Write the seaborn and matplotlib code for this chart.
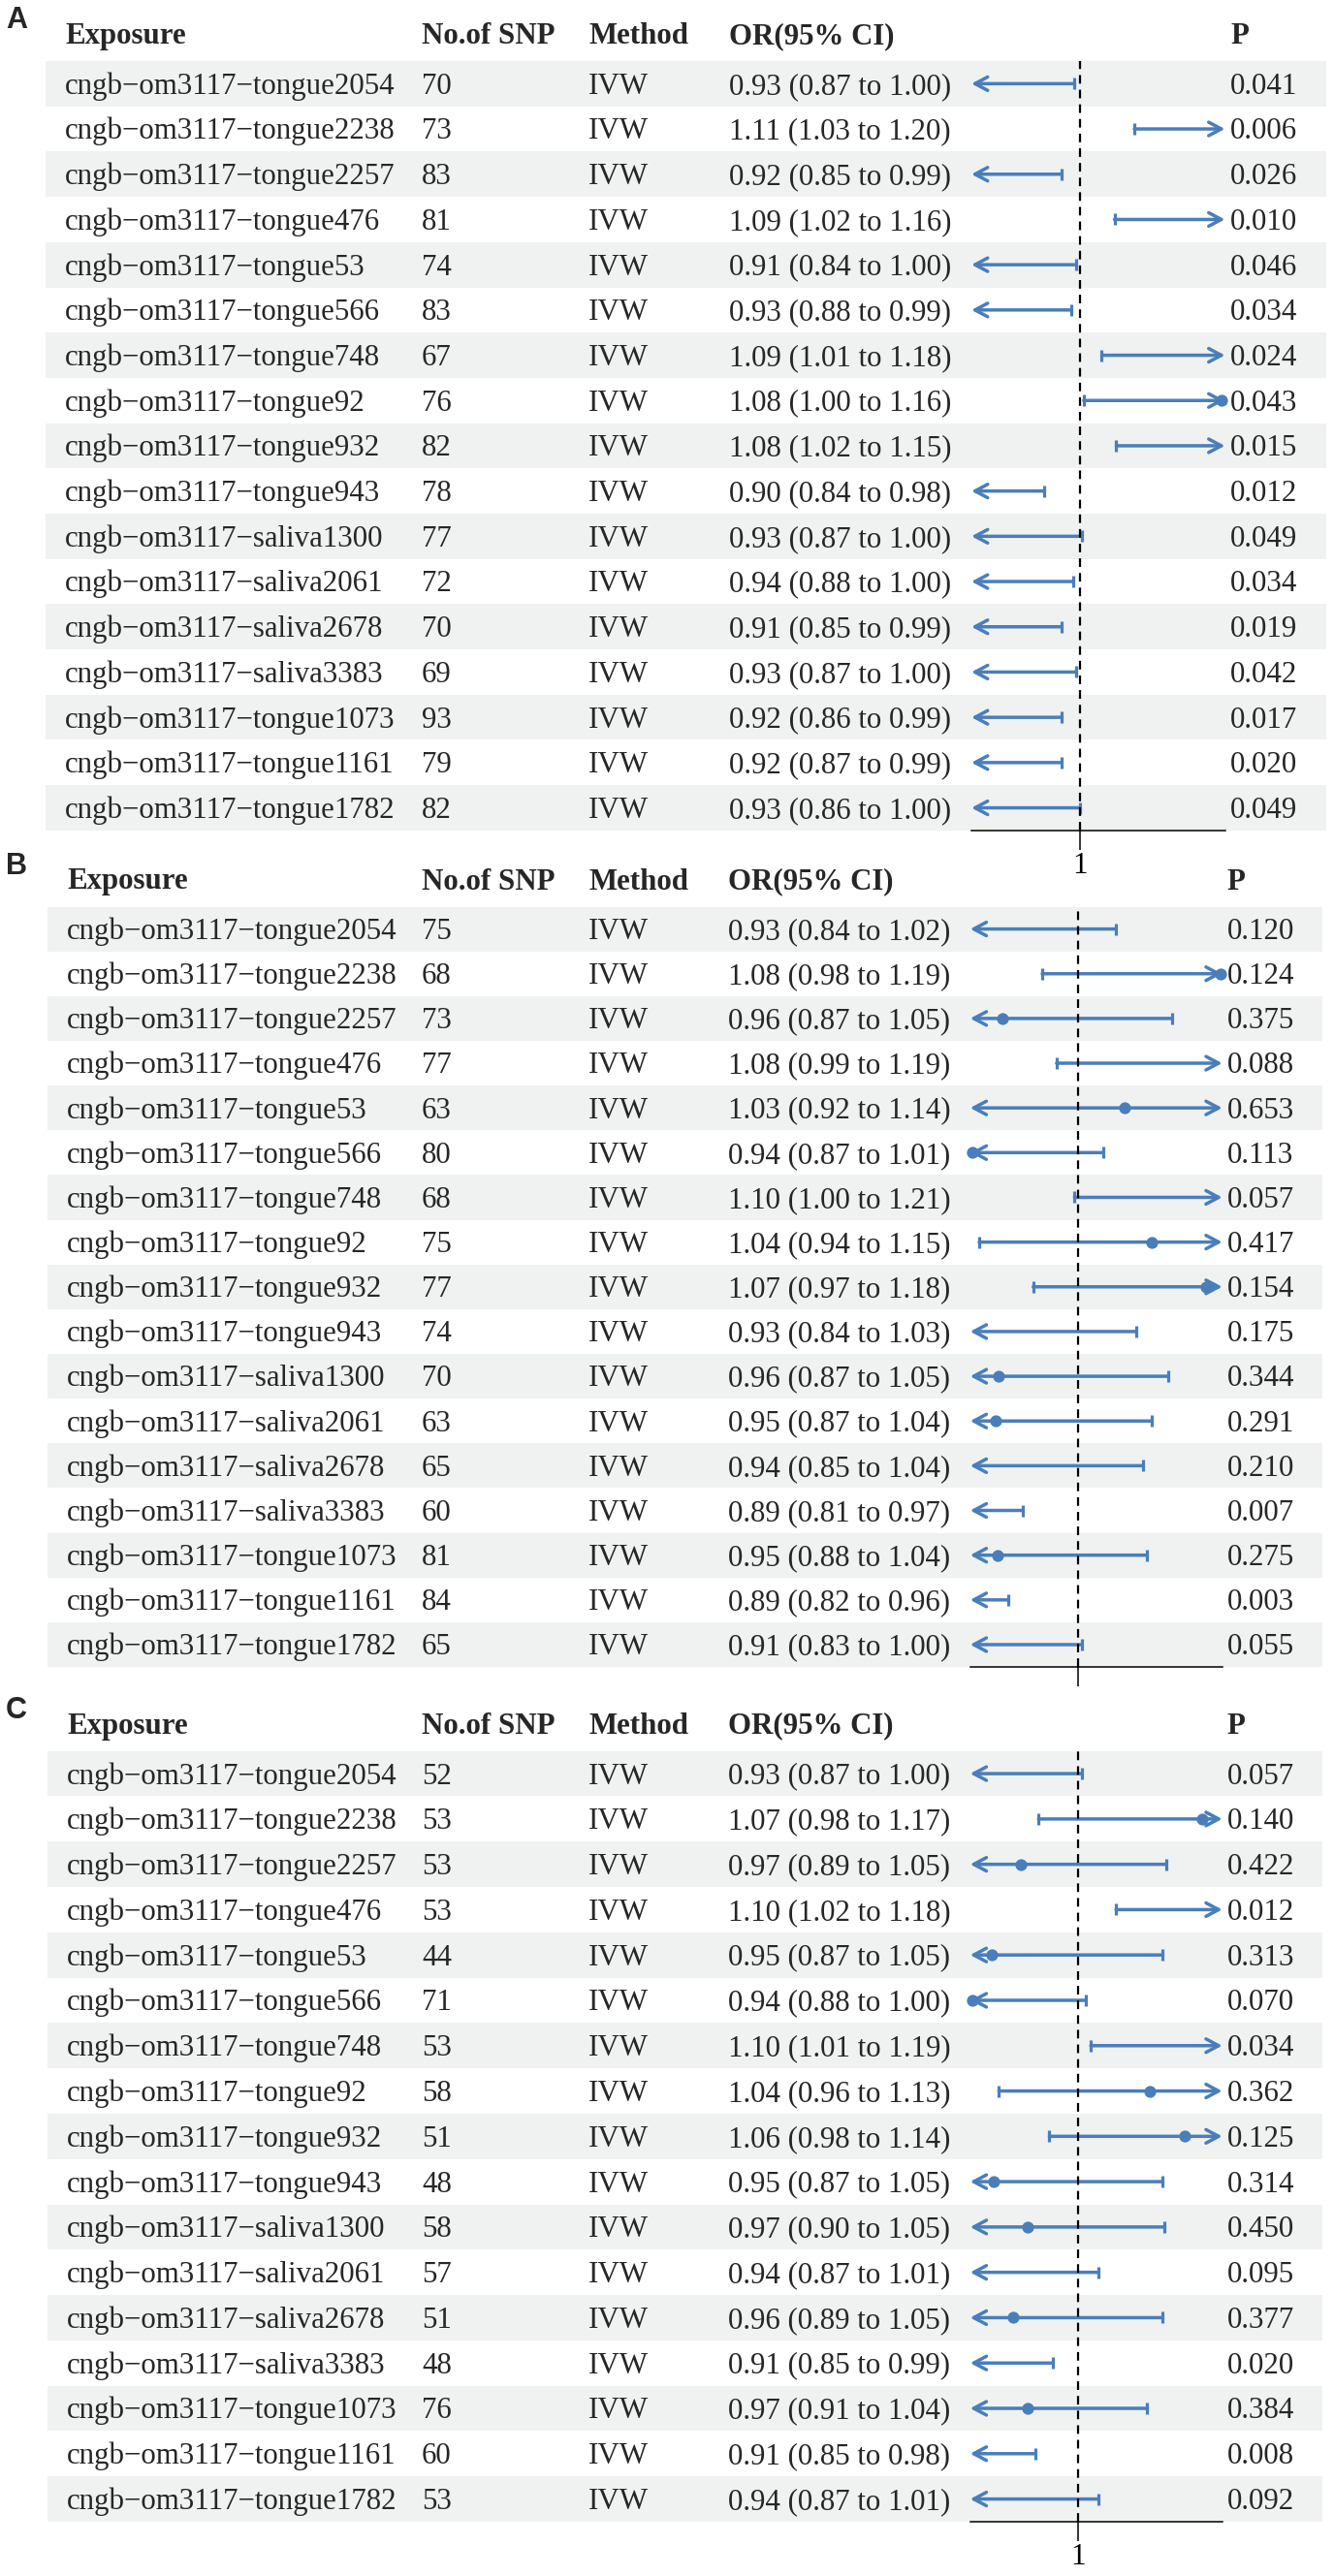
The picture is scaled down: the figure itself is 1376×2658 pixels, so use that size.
import matplotlib
matplotlib.use("Agg")
import matplotlib.pyplot as plt
import seaborn as sns

# forest plots of three MR analyses (A, B, C), drawn as table + forest column
sns.set_theme(style="white")
plt.rcParams["font.family"] = ["Liberation Serif", "DejaVu Serif"]

W, H, DPI = 1376, 2658, 100

exposures = [
    "cngb−om3117−tongue2054", "cngb−om3117−tongue2238", "cngb−om3117−tongue2257",
    "cngb−om3117−tongue476", "cngb−om3117−tongue53", "cngb−om3117−tongue566",
    "cngb−om3117−tongue748", "cngb−om3117−tongue92", "cngb−om3117−tongue932",
    "cngb−om3117−tongue943", "cngb−om3117−saliva1300", "cngb−om3117−saliva2061",
    "cngb−om3117−saliva2678", "cngb−om3117−saliva3383", "cngb−om3117−tongue1073",
    "cngb−om3117−tongue1161", "cngb−om3117−tongue1782",
]
method = "IVW"
headers = ["Exposure", "No.of SNP", "Method", "OR(95% CI)", "P"]

# panel A
snp_a = [70, 73, 83, 81, 74, 83, 67, 76, 82, 78, 77, 72, 70, 69, 93, 79, 82]
or_a = [0.93, 1.11, 0.92, 1.09, 0.91, 0.93, 1.09, 1.078, 1.082, 0.90, 0.93, 0.938, 0.91, 0.93, 0.92, 0.92, 0.93]
lo_a = [0.87, 1.03, 0.85, 1.019, 0.84, 0.88, 1.012, 1.002, 1.02, 0.84, 0.87, 0.88, 0.85, 0.87, 0.86, 0.87, 0.86]
hi_a = [0.997, 1.20, 0.99, 1.16, 0.998, 0.995, 1.18, 1.16, 1.15, 0.98, 1.001, 0.996, 0.99, 0.998, 0.99, 0.99, 1.0]
p_a = [0.041, 0.006, 0.026, 0.010, 0.046, 0.034, 0.024, 0.043, 0.015, 0.012, 0.049, 0.034, 0.019, 0.042, 0.017, 0.020, 0.049]

# panel B
snp_b = [75, 68, 73, 77, 63, 80, 68, 75, 77, 74, 70, 63, 65, 60, 81, 84, 65]
or_b = [0.93, 1.079, 0.958, 1.083, 1.026, 0.941, 1.10, 1.041, 1.071, 0.93, 0.956, 0.954, 0.937, 0.89, 0.955, 0.89, 0.91]
lo_b = [0.84, 0.980, 0.87, 0.988, 0.92, 0.87, 0.998, 0.945, 0.975, 0.84, 0.87, 0.87, 0.85, 0.81, 0.88, 0.82, 0.83]
hi_b = [1.021, 1.19, 1.052, 1.19, 1.14, 1.014, 1.21, 1.15, 1.18, 1.032, 1.050, 1.041, 1.036, 0.969, 1.038, 0.961, 1.002]
p_b = [0.120, 0.124, 0.375, 0.088, 0.653, 0.113, 0.057, 0.417, 0.154, 0.175, 0.344, 0.291, 0.210, 0.007, 0.275, 0.003, 0.055]

# panel C
snp_c = [52, 53, 53, 53, 44, 71, 53, 58, 51, 48, 58, 57, 51, 48, 76, 60, 53]
or_c = [0.93, 1.069, 0.968, 1.10, 0.952, 0.941, 1.10, 1.040, 1.059, 0.953, 0.972, 0.938, 0.964, 0.91, 0.972, 0.91, 0.938]
lo_c = [0.87, 0.978, 0.89, 1.021, 0.87, 0.88, 1.007, 0.956, 0.984, 0.87, 0.90, 0.87, 0.89, 0.85, 0.91, 0.85, 0.87]
hi_c = [1.002, 1.17, 1.049, 1.18, 1.047, 1.004, 1.19, 1.13, 1.14, 1.047, 1.048, 1.011, 1.047, 0.986, 1.038, 0.976, 1.011]
p_c = [0.057, 0.140, 0.422, 0.012, 0.313, 0.070, 0.034, 0.362, 0.125, 0.314, 0.450, 0.095, 0.377, 0.020, 0.384, 0.008, 0.092]

XLIM = (0.94, 1.08)
CI_COLOR = "#4a7ebb"
STRIPE = "#eff2f1"
FS = 22.2          # body text size (pt)
FS_PX = FS * DPI / 72
CI_LW = 2.5

panels = [
    dict(label="A", snp=snp_a, est=or_a, lo=lo_a, hi=hi_a, p=p_a,
         top=63.0, pitch=46.7, cols=[67, 435, 607, 752, 1269],
         band=(47, 1368), forest=(1002, 1263.5), ticklabel=True),
    dict(label="B", snp=snp_b, est=or_b, lo=lo_b, hi=hi_b, p=p_b,
         top=935.5, pitch=46.15, cols=[69, 435, 607, 751, 1265.7],
         band=(49, 1364), forest=(1000.7, 1260.7), ticklabel=False),
    dict(label="C", snp=snp_c, est=or_c, lo=lo_c, hi=hi_c, p=p_c,
         top=1806.7, pitch=46.78, cols=[69, 435, 607, 751, 1265.7],
         band=(49, 1364), forest=(1000.7, 1260.7), ticklabel=True),
]

fig = plt.figure(figsize=(W / DPI, H / DPI), dpi=DPI, facecolor="white")

n = len(exposures)
head = "head_length=0.47,head_width=0.25"
arrow_kw = dict(arrowstyle="->," + head, color=CI_COLOR,
                lw=CI_LW, shrinkA=0, shrinkB=0, mutation_scale=20)
both_kw = {**arrow_kw, "arrowstyle": "<->," + head}

for pan in panels:
    pitch = pan["pitch"]
    h_px = n * pitch
    bottom = 1 - (pan["top"] + h_px) / H

    # table part
    ax_t = fig.add_axes([0, bottom, 1, h_px / H])
    ax_t.set_xlim(0, W)
    ax_t.set_ylim(n, 0)
    ax_t.axis("off")

    stripe_rows = [i + 0.5 for i in range(0, n, 2)]
    bl, br = pan["band"]
    ax_t.barh(stripe_rows, width=br - bl, left=bl, height=1.0, color=STRIPE, linewidth=0)

    base = 0.338 * FS_PX / pitch
    hy = -18 / pitch
    for x, txt in zip(pan["cols"], headers):
        ax_t.text(x, hy, txt, fontsize=FS, fontweight="bold", va="baseline", ha="left")
    ax_t.text(6, -34 / pitch, pan["label"], fontsize=22, fontweight="bold",
              family=["Liberation Sans", "DejaVu Sans"], va="baseline", ha="left")

    for i in range(n):
        y = i + 0.5 + base
        ci = f"{pan['est'][i]:.2f} ({pan['lo'][i]:.2f} to {pan['hi'][i]:.2f})"
        row = [exposures[i], str(pan["snp"][i]), method, ci, f"{pan['p'][i]:.3f}"]
        for x, txt in zip(pan["cols"], row):
            ax_t.text(x, y, txt, fontsize=FS, va="baseline", ha="left")

    # forest part
    fl, fr = pan["forest"]
    ax_f = fig.add_axes([fl / W, bottom, (fr - fl) / W, h_px / H])
    ax_f.set_zorder(ax_t.get_zorder() + 1)
    ax_f.patch.set_alpha(0)
    ax_f.set_xlim(*XLIM)
    ax_f.set_ylim(n, 0)
    for s in ["top", "left", "right"]:
        ax_f.spines[s].set_visible(False)
    ax_f.spines["bottom"].set_color("black")
    ax_f.spines["bottom"].set_linewidth(1.1)
    ax_f.set_yticks([])
    ax_f.set_xticks([1])
    ax_f.set_xticklabels(["1"])
    ax_f.tick_params(axis="x", bottom=True, direction="out", length=14.4, width=1.1,
                     pad=1.5, labelsize=FS, colors="black", labelbottom=pan["ticklabel"])
    ax_f.grid(False)

    cap_x, cap_y, pt_x, pt_y = [], [], [], []
    for i in range(n):
        y = i + 0.5
        lo, hi, est = pan["lo"][i], pan["hi"][i], pan["est"][i]
        left_out = lo < XLIM[0]
        right_out = hi > XLIM[1]
        if left_out and right_out:
            ax_f.annotate("", xy=(XLIM[1], y), xytext=(XLIM[0], y), arrowprops=both_kw)
        elif right_out:
            ax_f.annotate("", xy=(XLIM[1], y), xytext=(lo, y), arrowprops=arrow_kw)
        elif left_out:
            ax_f.annotate("", xy=(XLIM[0], y), xytext=(hi, y), arrowprops=arrow_kw)
        else:
            ax_f.hlines(y, lo, hi, color=CI_COLOR, lw=CI_LW)
        if not left_out:
            cap_x.append(lo)
            cap_y.append(y)
        if not right_out:
            cap_x.append(hi)
            cap_y.append(y)
        if XLIM[0] <= est <= XLIM[1]:
            pt_x.append(est)
            pt_y.append(y)

    ax_f.plot(cap_x, cap_y, ls="none", marker="|", ms=8.6, mew=2.3, color=CI_COLOR)
    if pt_x:
        sns.scatterplot(x=pt_x, y=pt_y, ax=ax_f, color=CI_COLOR, s=78, linewidth=0,
                        zorder=4, clip_on=False, legend=False)
    ax_f.axvline(1, color="black", lw=1.6, ls=(0, (4.0, 2.8)), zorder=5)
    ax_f.set_xlim(*XLIM)
    ax_f.set_ylim(n, 0)
    ax_f.set_xlabel("")
    ax_f.set_ylabel("")

fig.savefig("out.png", dpi=DPI, facecolor="white")
